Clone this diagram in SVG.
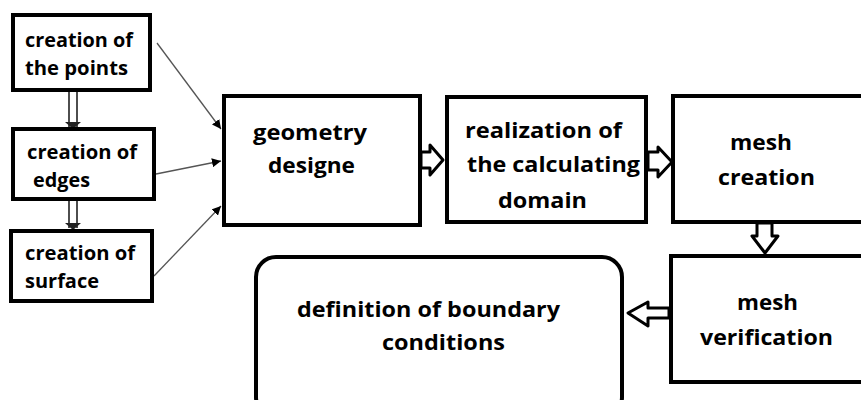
<svg xmlns="http://www.w3.org/2000/svg" width="861" height="400" viewBox="0 0 861 400">
<defs>
<style>
.box{fill:#fff;stroke:#000;stroke-width:4}
.t{font-family:"Open Sans","Liberation Sans",sans-serif;font-weight:bold;font-size:21px;fill:#000}
.ts{font-family:"Open Sans","Liberation Sans",sans-serif;font-weight:bold;font-size:19px;fill:#000}
.thin{stroke:#555;stroke-width:1.3;fill:none}
.hollow{fill:#fff;stroke:#000;stroke-width:3;stroke-linejoin:round}
.dbl{stroke:#222;stroke-width:1.6;fill:none}
</style>
<marker id="ah" viewBox="0 0 10 10" refX="10" refY="5" markerWidth="9" markerHeight="9" markerUnits="userSpaceOnUse" orient="auto">
<path d="M0,0 L10,5 L0,10 z" fill="#000"/>
</marker>
</defs>
<rect width="861" height="400" fill="#fff"/>
<g id="connectors">
<line class="thin" x1="157" y1="43" x2="221" y2="129" marker-end="url(#ah)"/>
<line class="thin" x1="156" y1="174" x2="221" y2="161" marker-end="url(#ah)"/>
<line class="thin" x1="154" y1="276" x2="221" y2="206" marker-end="url(#ah)"/>
<path class="dbl" d="M69,90 V127 M77,90 V127"/>
<path d="M65,122 L73,129 L81,122 z" fill="#222"/>
<path class="dbl" d="M69,199 V228 M77,199 V228"/>
<path d="M65,223 L73,230 L81,223 z" fill="#222"/>
<polygon class="hollow" points="421,152 430,152 430,145 443,160 430,175 430,168 421,168"/>
<polygon class="hollow" points="648,152 658,152 658,147 672,162 658,177 658,170 648,170"/>
<polygon class="hollow" points="757,223 772,223 772,236 778,236 765,253 752,236 757,236"/>
<polygon class="hollow" points="669,308 648,308 648,302 628,313 648,326 648,318 669,318"/>
</g>
<g id="n-points">
<rect class="box" x="13" y="15" width="137" height="75"/>
<text class="ts" x="25" y="47" textLength="108" lengthAdjust="spacingAndGlyphs">creation of</text>
<text class="ts" x="25" y="75" textLength="103" lengthAdjust="spacingAndGlyphs">the points</text>
</g>
<g id="n-edges">
<rect class="box" x="13" y="129" width="141" height="70"/>
<text class="ts" x="27" y="159" textLength="110" lengthAdjust="spacingAndGlyphs">creation of</text>
<text class="ts" x="33" y="187" textLength="57" lengthAdjust="spacingAndGlyphs">edges</text>
</g>
<g id="n-surface">
<rect class="box" x="11" y="231" width="141" height="70"/>
<text class="ts" x="25" y="260" textLength="110" lengthAdjust="spacingAndGlyphs">creation of</text>
<text class="ts" x="25" y="288" textLength="74" lengthAdjust="spacingAndGlyphs">surface</text>
</g>
<g id="n-geometry">
<rect class="box" x="224" y="96" width="196" height="129"/>
<text class="t" x="253" y="140" textLength="114" lengthAdjust="spacingAndGlyphs">geometry</text>
<text class="t" x="268" y="173" textLength="87" lengthAdjust="spacingAndGlyphs">designe</text>
</g>
<g id="n-realization">
<rect class="box" x="447" y="97" width="199" height="125"/>
<text class="t" x="465" y="138" textLength="157" lengthAdjust="spacingAndGlyphs">realization of</text>
<text class="t" x="467" y="172" textLength="173" lengthAdjust="spacingAndGlyphs">the calculating</text>
<text class="t" x="498" y="208" textLength="89" lengthAdjust="spacingAndGlyphs">domain</text>
</g>
<g id="n-mesh-creation">
<rect class="box" x="673" y="96" width="196" height="126"/>
<text class="t" x="730" y="150" textLength="62" lengthAdjust="spacingAndGlyphs">mesh</text>
<text class="t" x="718" y="185" textLength="97" lengthAdjust="spacingAndGlyphs">creation</text>
</g>
<g id="n-mesh-verification">
<rect class="box" x="671" y="256" width="198" height="126"/>
<text class="t" x="737" y="310" textLength="61" lengthAdjust="spacingAndGlyphs">mesh</text>
<text class="t" x="700" y="345" textLength="133" lengthAdjust="spacingAndGlyphs">verification</text>
</g>
<g id="n-boundary">
<rect class="box" x="256" y="257" width="366" height="160" rx="20" ry="20"/>
<text class="t" x="297" y="317" textLength="263" lengthAdjust="spacingAndGlyphs">definition of boundary</text>
<text class="t" x="382" y="350" textLength="123" lengthAdjust="spacingAndGlyphs">conditions</text>
</g>
</svg>
